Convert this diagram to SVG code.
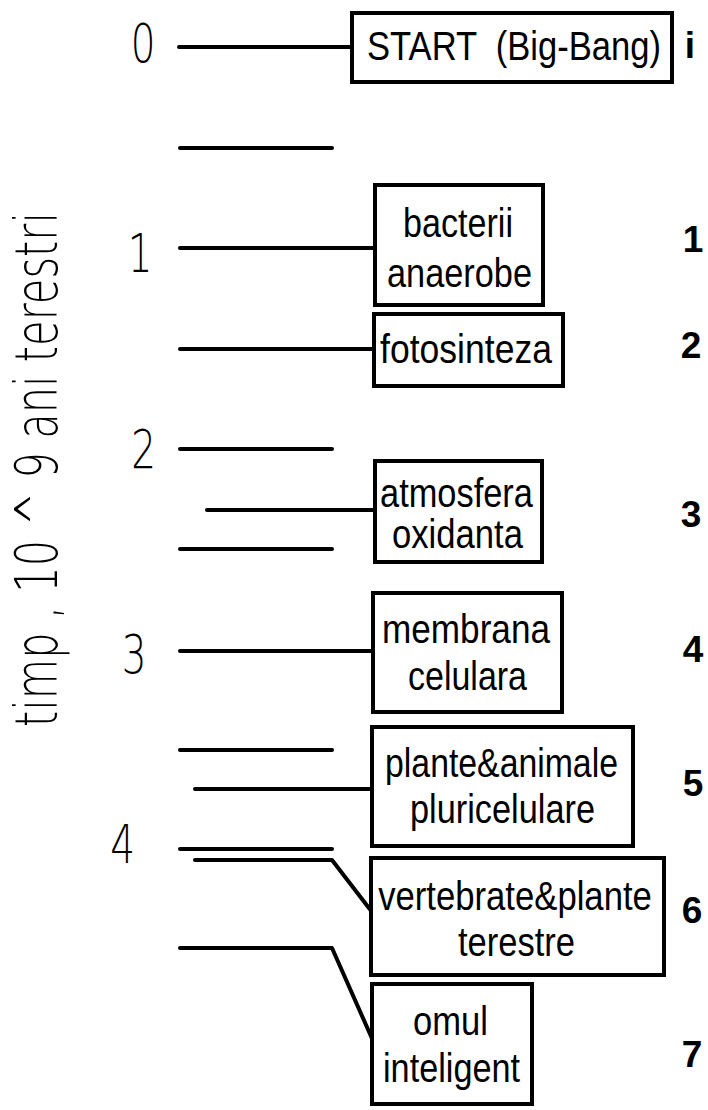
<svg xmlns="http://www.w3.org/2000/svg" width="708" height="1110" viewBox="0 0 708 1110">
<style>
.box{fill:#fff;stroke:#000;stroke-width:4;stroke-linejoin:miter}
.bt{font-family:"Liberation Sans",Arial,sans-serif;font-size:40px;fill:#000;text-anchor:middle}
.num{font-family:"Liberation Sans",Arial,sans-serif;font-size:37px;font-weight:bold;fill:#000;text-anchor:middle}
.thin{font-family:"DejaVu Sans","Liberation Sans",sans-serif;font-weight:200;fill:#000;text-anchor:middle}
.conn path{fill:none;stroke:#000;stroke-width:4;stroke-linecap:round;stroke-linejoin:round}
</style>
<rect width="708" height="1110" fill="#fff"/>
<g id="axis-label">
<text class="thin" font-size="58" transform="translate(57,469.5) rotate(-90)" textLength="515" lengthAdjust="spacingAndGlyphs">timp , 10 ^ 9 ani terestri</text>
</g>
<g id="scale">
<text class="thin" font-size="54" transform="translate(143,62) scale(0.72,1)">0</text>
<text class="thin" font-size="54" transform="translate(140,272) scale(0.72,1)">1</text>
<text class="thin" font-size="54" transform="translate(143.5,468) scale(0.72,1)">2</text>
<text class="thin" font-size="54" transform="translate(134,673) scale(0.72,1)">3</text>
<text class="thin" font-size="54" transform="translate(122.5,863) scale(0.72,1)">4</text>
</g>
<g class="conn" id="connectors">
<path d="M179 47 H352"/>
<path d="M180 148 H332"/>
<path d="M180 248 H375"/>
<path d="M180 349 H374"/>
<path d="M180 449 H332"/>
<path d="M207 510 H375"/>
<path d="M180 549 H332"/>
<path d="M180 651 H373"/>
<path d="M180 750 H332"/>
<path d="M195 789 H372"/>
<path d="M180 849 H332"/>
<path d="M195 860 H332 L372 912"/>
<path d="M180 948 H332 L374 1043"/>
</g>
<g id="n0">
<rect class="box" x="352" y="13" width="320" height="69"/>
<text class="bt" xml:space="preserve" transform="translate(514,60) scale(0.865,1)">START  (Big-Bang)</text>
<text class="num" x="690" y="58" font-size="50">i</text>
</g>
<g id="n1">
<rect class="box" x="375" y="185" width="168" height="120"/>
<text class="bt" transform="translate(458,237) scale(0.853,1)">bacterii</text>
<text class="bt" transform="translate(459.5,287) scale(0.858,1)">anaerobe</text>
<text class="num" x="693" y="252">1</text>
</g>
<g id="n2">
<rect class="box" x="374" y="314" width="189" height="72"/>
<text class="bt" transform="translate(466,363) scale(0.889,1)">fotosinteza</text>
<text class="num" x="691" y="358">2</text>
</g>
<g id="n3">
<rect class="box" x="375" y="461" width="167" height="101"/>
<text class="bt" transform="translate(456.5,507) scale(0.86,1)">atmosfera</text>
<text class="bt" transform="translate(457.5,548) scale(0.866,1)">oxidanta</text>
<text class="num" x="691" y="527">3</text>
</g>
<g id="n4">
<rect class="box" x="373" y="593" width="189" height="119"/>
<text class="bt" transform="translate(466,643) scale(0.879,1)">membrana</text>
<text class="bt" transform="translate(467.5,690) scale(0.85,1)">celulara</text>
<text class="num" x="693" y="662">4</text>
</g>
<g id="n5">
<rect class="box" x="372" y="727" width="261" height="119"/>
<text class="bt" transform="translate(501.5,777) scale(0.845,1)">plante&amp;animale</text>
<text class="bt" transform="translate(502.5,823) scale(0.858,1)">pluricelulare</text>
<text class="num" x="693" y="796">5</text>
</g>
<g id="n6">
<rect class="box" x="371" y="858" width="293" height="117"/>
<text class="bt" transform="translate(515,910) scale(0.867,1)">vertebrate&amp;plante</text>
<text class="bt" transform="translate(516.5,956) scale(0.863,1)">terestre</text>
<text class="num" x="692" y="923">6</text>
</g>
<g id="n7">
<rect class="box" x="372" y="984" width="160" height="120"/>
<text class="bt" transform="translate(450.5,1035) scale(0.865,1)">omul</text>
<text class="bt" transform="translate(451.5,1082) scale(0.856,1)">inteligent</text>
<text class="num" x="692" y="1067">7</text>
</g>
</svg>
